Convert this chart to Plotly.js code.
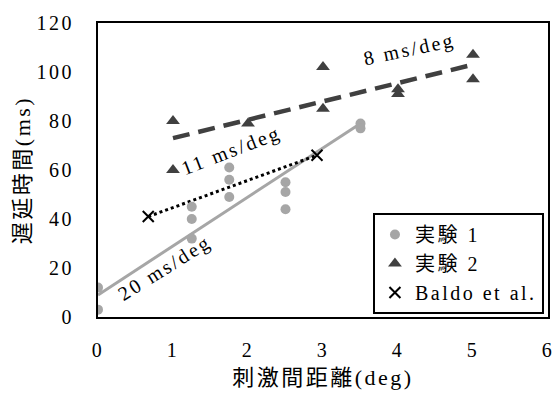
<!DOCTYPE html>
<html><head><meta charset="utf-8">
<script src="https://cdn.plot.ly/plotly-3.0.1.min.js"></script>
<style>html,body{margin:0;padding:0;background:#fff} text{letter-spacing:2.5px}</style>
</head><body><div id="chart" style="width:558px;height:394px"></div>
<script>
const exp1X = [0, 0, 1.25, 1.25, 1.25, 1.75, 1.75, 1.75, 2.5, 2.5, 2.5, 3.5, 3.5];
const exp1Y = [12, 3, 45, 40, 32, 61, 56, 49, 55, 51, 44, 79, 77];
const exp2X = [1, 1, 2, 3, 3, 4, 4, 5, 5];
const exp2Y = [80, 60, 79, 102, 85, 93, 91, 107, 97];
const baldoX = [0.67, 2.92];
const baldoY = [41, 66];
const fit1X = [0, 3.5];
const fit1Y = [9, 79];
const fit2X = [1, 5];
const fit2Y = [73, 103];
const xTicks = [0, 1, 2, 3, 4, 5, 6];
const yTicks = [0, 20, 40, 60, 80, 100, 120];
const slopeLabels = ['20 ms/deg', '11 ms/deg', '8 ms/deg'];

const FONT = "'Liberation Serif', 'Times New Roman', 'Noto Sans CJK JP', serif";
const traces = [
  {x: fit1X, y: fit1Y, mode: 'lines', line: {color: '#a6a6a6', width: 3}, showlegend: false, hoverinfo: 'skip'},
  {x: fit2X, y: fit2Y, mode: 'lines', line: {color: '#404040', width: 4.5, dash: '17px,9px'}, showlegend: false, hoverinfo: 'skip'},
  {x: baldoX, y: baldoY, mode: 'lines', line: {color: '#000', width: 3, dash: 'dot'}, showlegend: false, hoverinfo: 'skip'},
  {x: exp1X, y: exp1Y, mode: 'markers', name: '実験 1', legendgroup: 'a', marker: {symbol: 'circle', size: 10, color: '#a6a6a6'}},
  {x: exp2X, y: exp2Y, mode: 'markers', name: '実験 2', legendgroup: 'b', marker: {symbol: 'triangle-up', size: 12, color: '#404040'}},
  {x: baldoX, y: baldoY, mode: 'markers', name: 'Baldo et al.', legendgroup: 'c', marker: {symbol: 'x-thin', size: 11, color: '#000', line: {color: '#000', width: 2}}}
];
const layout = {
  width: 558, height: 394,
  margin: {l: 98, r: 10, t: 23, b: 77},
  paper_bgcolor: '#fff', plot_bgcolor: '#fff',
  font: {family: FONT, size: 20, color: '#000'},
  showlegend: true,
  legend: {x: 0.611, y: 0.354, xanchor: 'left', yanchor: 'top', bordercolor: '#000', borderwidth: 2,
           bgcolor: '#fff', font: {family: FONT, size: 20}, tracegroupgap: 0, traceorder: 'grouped', itemwidth: 30},
  xaxis: {range: [0, 6], tickvals: xTicks, ticktext: xTicks.map(String), showgrid: false, zeroline: false,
          showline: true, mirror: true, linecolor: '#000', linewidth: 2, ticks: '', ticklen: 0, ticklabelstandoff: 14,
          tickfont: {family: FONT, size: 20},
          title: {text: '刺激間距離(deg)', font: {family: FONT, size: 22}, standoff: 10}},
  yaxis: {range: [0, 120], tickvals: yTicks, ticktext: yTicks.map(String), showgrid: false, zeroline: false,
          showline: true, mirror: true, linecolor: '#000', linewidth: 2, ticks: '', ticklen: 0, ticklabelstandoff: 18,
          tickfont: {family: FONT, size: 20},
          title: {text: '遅延時間(ms)', font: {family: FONT, size: 22}, standoff: 0}},
  annotations: [
    {x: 0.88, y: 20, text: slopeLabels[0], showarrow: false, textangle: -32, font: {family: FONT, size: 20}},
    {x: 1.78, y: 68, text: slopeLabels[1], showarrow: false, textangle: -21, font: {family: FONT, size: 20}},
    {x: 4.15, y: 109, text: slopeLabels[2], showarrow: false, textangle: -12, font: {family: FONT, size: 20}}
  ]
};
Plotly.newPlot('chart', traces, layout, {displayModeBar: false, staticPlot: true});
</script></body></html>
